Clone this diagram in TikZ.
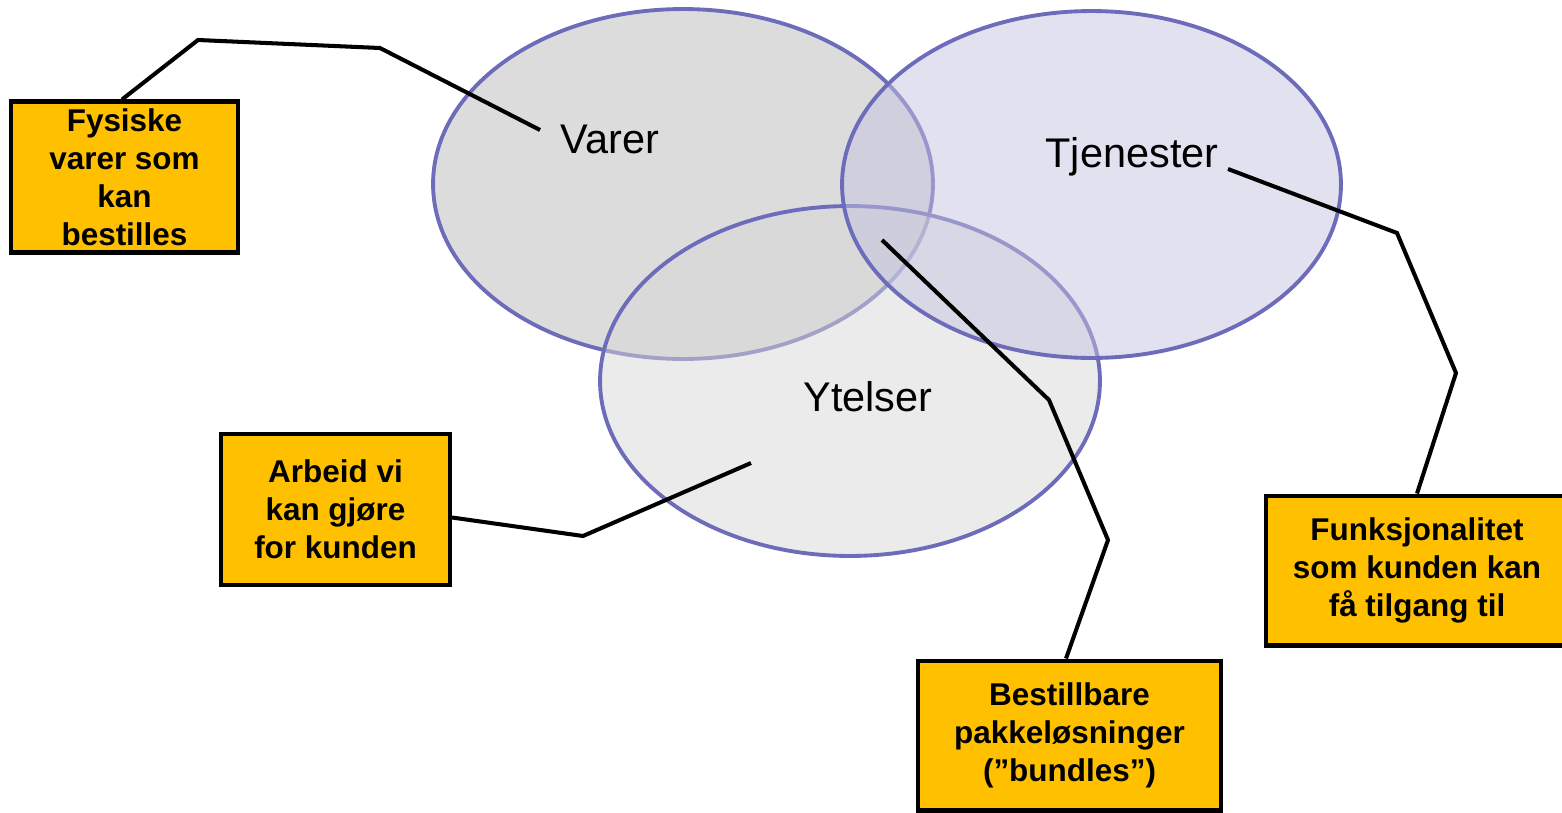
\documentclass[tikz,border=0pt]{standalone}
\usepackage{fontspec}
\setmainfont{Liberation Sans}
\usetikzlibrary{shapes.geometric}

\definecolor{rim}{RGB}{108,108,186}
\definecolor{goodsfill}{RGB}{220,220,220}
\definecolor{workfill}{RGB}{216,216,216}
\definecolor{servfill}{RGB}{195,195,223}
\definecolor{notefill}{RGB}{255,192,0}

\begin{document}
\begin{tikzpicture}[x=0.02cm,y=-0.02cm,
  setshape/.style={ellipse,draw=rim,line width=2.2pt,inner sep=0pt,
    minimum width=10cm,minimum height=7cm},
  setlabel/.style={font=\fontsize{23.6}{28}\selectfont,anchor=base,inner sep=0pt},
  notetext/.style={align=center,font=\fontsize{17.9}{21.6}\selectfont\bfseries,inner sep=0pt},
  note/.style={draw=black,fill=notefill,line width=2.3pt,notetext,
    minimum height=3.02cm},
  leader/.style={draw=black,line width=2.3pt,line join=miter}]

\useasboundingbox (0,0) rectangle (1562,812);

% the three overlapping sets
\node[setshape,fill=goodsfill] (varer) at (683,184) {};
\node[setshape,fill=workfill,fill opacity=0.5] (ytelser) at (850,381) {};
\node[setshape,fill=servfill,fill opacity=0.5,minimum width=9.98cm,minimum height=6.94cm] (tjenester) at (1091.5,184.5) {};

% callout boxes
\node[note,minimum width=4.54cm] (b1) at (124.5,177) {Fysiske\\varer som\\kan\\bestilles};
\node[note,minimum width=4.58cm] (b2) at (335.5,509.5) {Arbeid vi\\kan gjøre\\for kunden};
\node[note,minimum width=6.06cm,minimum height=3.0cm] (b3) at (1069.5,735.5) {Bestillbare\\pakkeløsninger\\(”bundles”)};
% this box runs past the right edge of the page
\node[note,minimum width=7.4cm,minimum height=3.0cm] (b4) at (1451,570.5) {};
\node[notetext] (t4) at (1417,570.5) {Funksjonalitet\\som kunden kan\\få tilgang til};

% end points of the leader lines
\coordinate (pinvarer) at (540,130);
\coordinate (pinytelser) at (751,463);
\coordinate (pinbundle) at (882,240);
\coordinate (pintjenester) at (1228,169);

% leader lines
\draw[leader] ([xshift=-0.05cm]b1.north) -- (198,40) -- (380,48) -- (pinvarer);
\draw[leader] ([yshift=-0.16cm]b2.east) -- (583,536) -- (pinytelser);
\draw[leader] ([xshift=-0.07cm]b3.north) -- (1108,540) -- (1049,400) -- (pinbundle);
\draw[leader] (t4.north |- b4.north) -- (1456,373) -- (1397,233) -- (pintjenester);

% set names
\node[setlabel] (lvarer) at (610,153) {Varer};
\node[setlabel] (ltjenester) at (1132,167) {Tjenester};
\node[setlabel] (lytelser) at (868,411) {Ytelser};
\end{tikzpicture}
\end{document}
